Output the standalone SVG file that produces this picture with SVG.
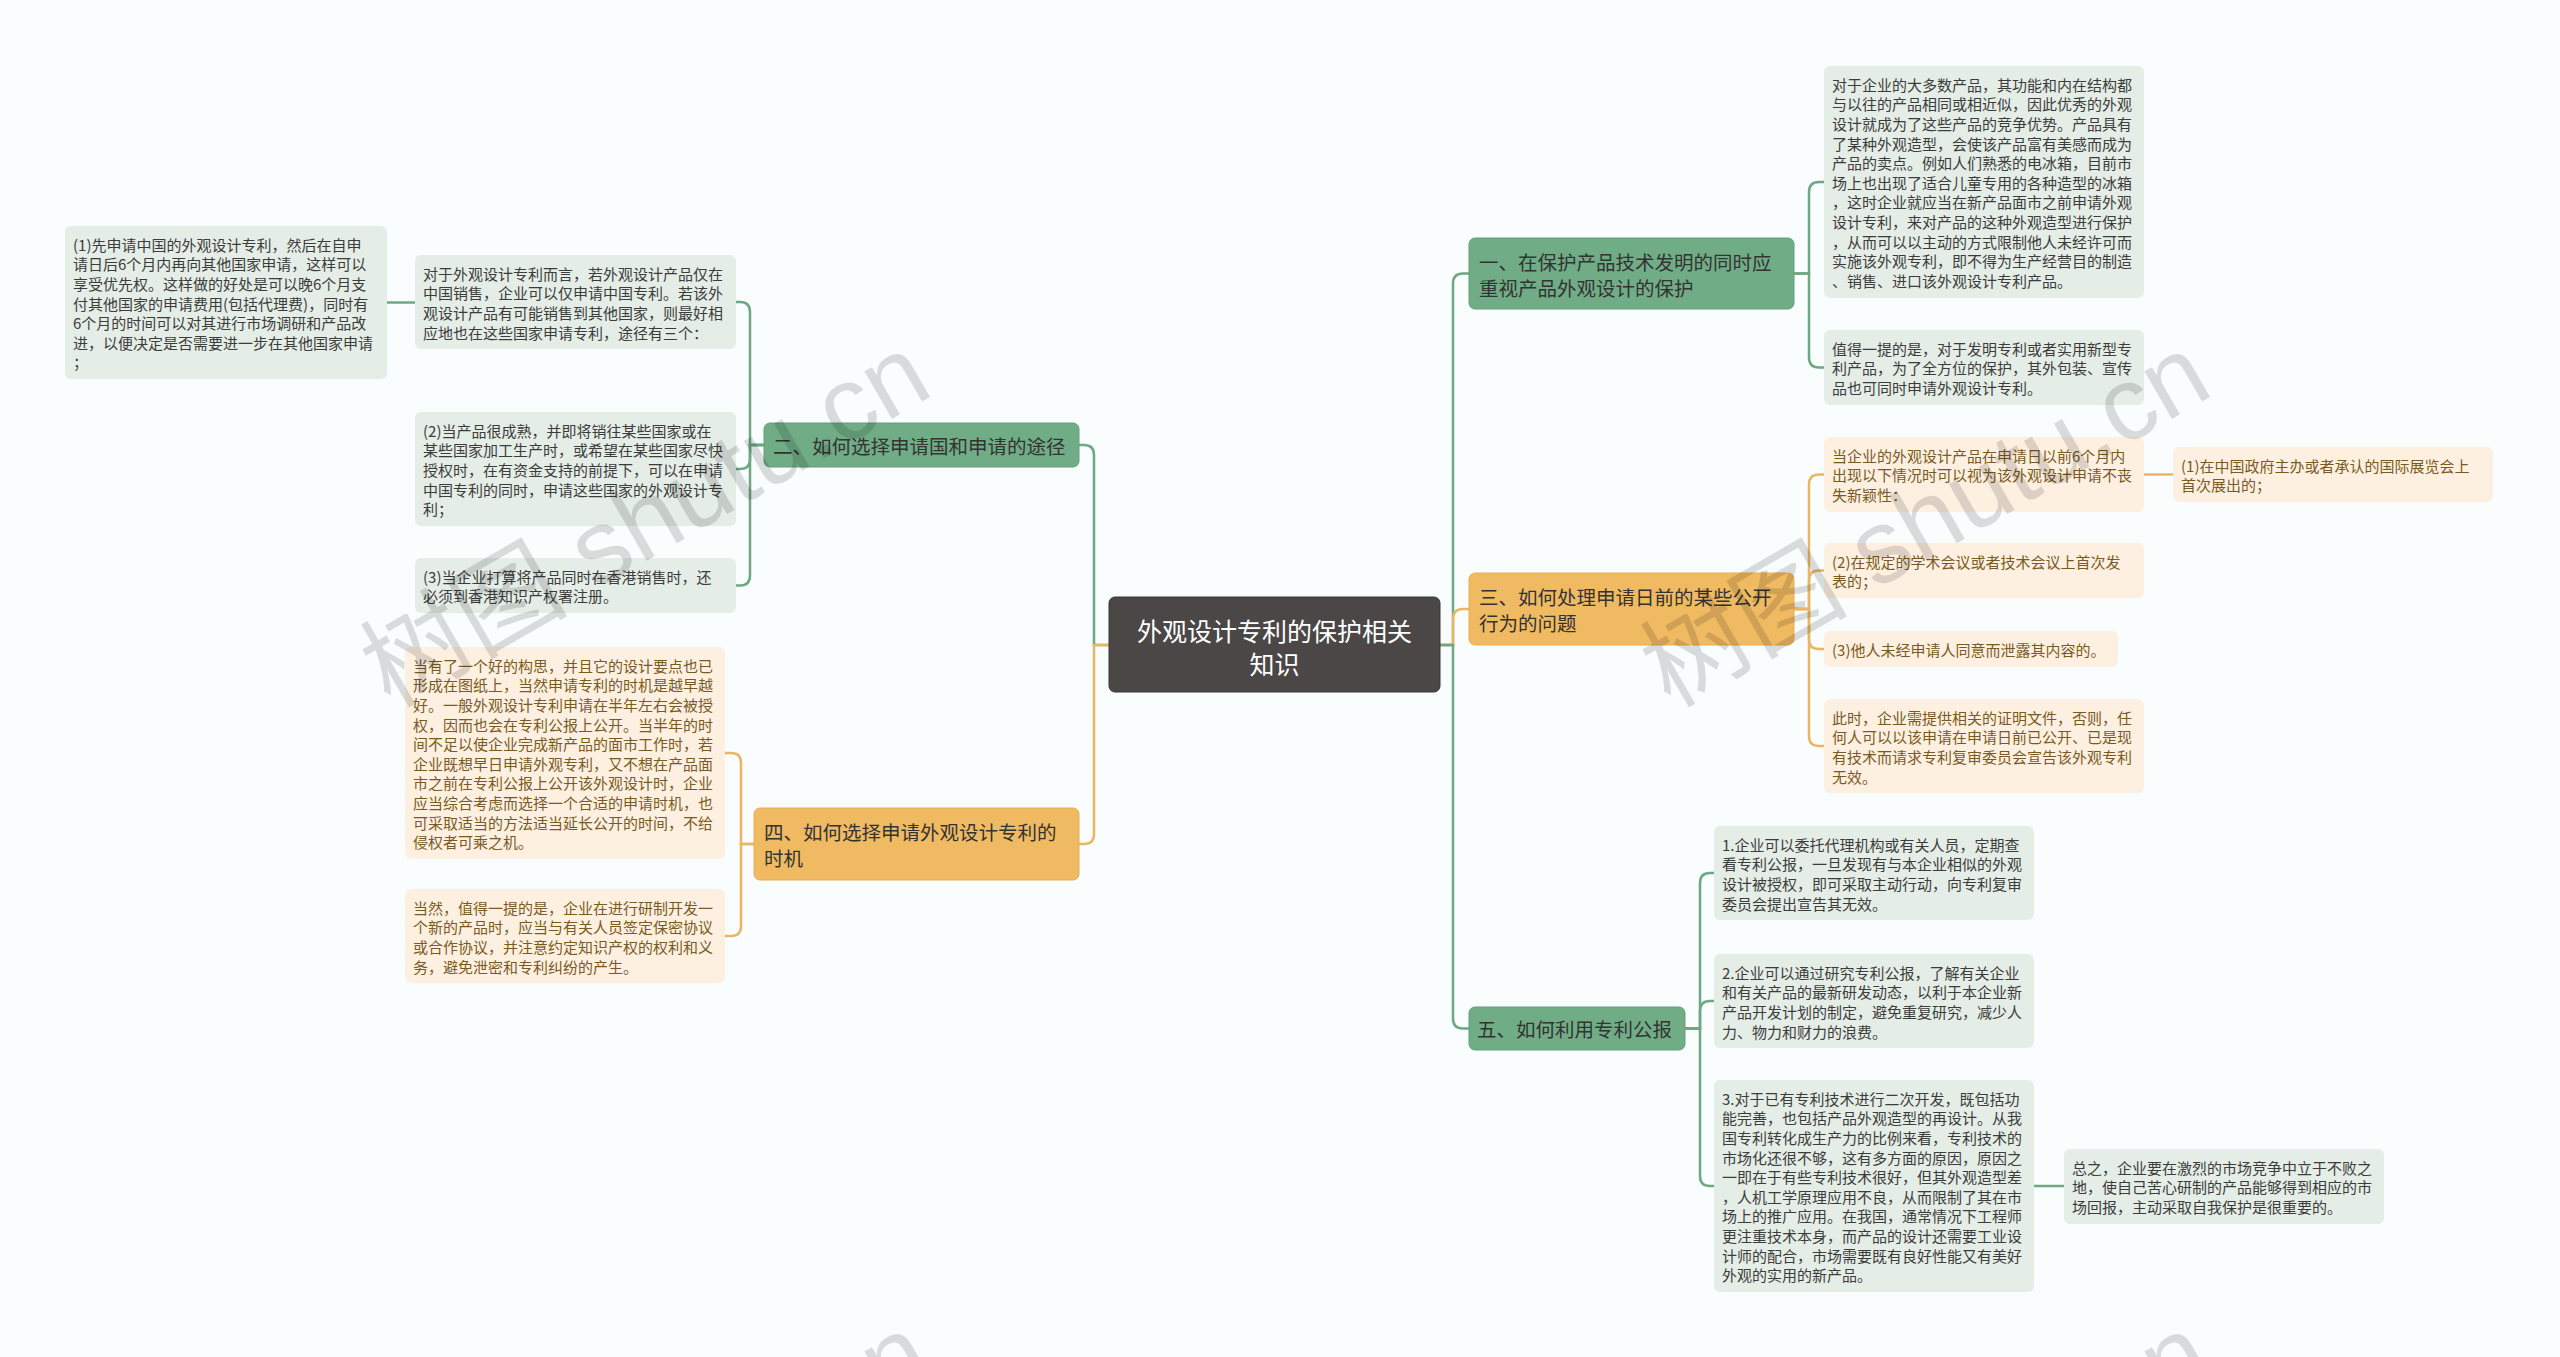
<svg xmlns="http://www.w3.org/2000/svg" width="2560" height="1357" viewBox="0 0 2560 1357">
<style>
text{font-family:"Noto Sans CJK SC","Noto Sans",sans-serif;dominant-baseline:central}
.lg rect{fill:#e5ede7}
.lo rect{fill:#fdf0e1}
.lg text{font-size:15px;fill:#3c3c3c}
.lo text{font-size:15px;fill:#7b5a22}
.bg rect{fill:#70ad86;stroke:#62a07a;stroke-width:1}
.bo rect{fill:#f0ba62;stroke:#e6ae55;stroke-width:1}
.bg text,.bo text{font-size:19.5px;fill:#333}
.root rect{fill:#4b4747;stroke:#3a3636;stroke-width:1}
.root text{font-size:25px;fill:#fff;text-anchor:middle}
.cg{fill:none;stroke:#6ea883;stroke-width:2.5}
.co{fill:none;stroke:#e9b763;stroke-width:2.5}
.wm{font-family:"Liberation Sans","Noto Sans CJK SC",sans-serif;font-size:104px;fill:#000;opacity:0.13;text-anchor:middle;dominant-baseline:central}
</style>
<rect x="0" y="0" width="2560" height="1357" fill="#f9fdfd"/>
<g id="connectors">
<path class="cg" d="M1109,645 H1094 V455 Q1094,445 1084,445 H1079"/>
<path class="co" d="M1109,645 H1094 V834 Q1094,844 1084,844 H1079"/>
<path class="cg" d="M1440,645 H1453 V283.5 Q1453,273.5 1463,273.5 H1469"/>
<path class="co" d="M1440,645 H1453 V619 Q1453,609 1463,609 H1469"/>
<path class="cg" d="M1440,645 H1453 V1018.5 Q1453,1028.5 1463,1028.5 H1469"/>
<path class="cg" d="M764,445 H750 V312 Q750,302 740,302 H736"/>
<path class="cg" d="M764,445 H750 V459 Q750,469 740,469 H736"/>
<path class="cg" d="M764,445 H750 V575.6 Q750,585.6 740,585.6 H736"/>
<path class="cg" d="M415,302.5 H387"/>
<path class="co" d="M754,844 H741 V763 Q741,753 731,753 H725"/>
<path class="co" d="M754,844 H741 V926 Q741,936 731,936 H725"/>
<path class="cg" d="M1794,273.5 H1809 V192 Q1809,182 1819,182 H1824"/>
<path class="cg" d="M1794,273.5 H1809 V357.5 Q1809,367.5 1819,367.5 H1824"/>
<path class="co" d="M1794,609 H1809 V484.5 Q1809,474.5 1819,474.5 H1824"/>
<path class="co" d="M1794,609 H1809 V580.5 Q1809,570.5 1819,570.5 H1824"/>
<path class="co" d="M1794,609 H1809 V639 Q1809,649 1819,649 H1824"/>
<path class="co" d="M1794,609 H1809 V736 Q1809,746 1819,746 H1824"/>
<path class="co" d="M2144,474.5 H2173"/>
<path class="cg" d="M1685,1028.5 H1700 V883 Q1700,873 1710,873 H1714"/>
<path class="cg" d="M1685,1028.5 H1700 V1011 Q1700,1001 1710,1001 H1714"/>
<path class="cg" d="M1685,1028.5 H1700 V1176 Q1700,1186 1710,1186 H1714"/>
<path class="cg" d="M2034,1186 H2064"/>
</g>
<g id="root" class="root">
<rect x="1109" y="597" width="331" height="95" rx="6"/>
<text x="1274.5"><tspan x="1274.5" y="629.5">外观设计专利的保护相关</tspan><tspan x="1274.5" y="662.5">知识</tspan></text>
</g>
<g id="b2" class="bg">
<rect x="764" y="423" width="315" height="44" rx="6"/>
<text x="773" y="445">二、如何选择申请国和申请的途径</text>
</g>
<g id="b4" class="bo">
<rect x="754" y="808" width="325" height="72" rx="6"/>
<text><tspan x="764" y="831">四、如何选择申请外观设计专利的</tspan><tspan x="764" y="857">时机</tspan></text>
</g>
<g id="b1" class="bg">
<rect x="1469" y="238" width="325" height="71" rx="6"/>
<text><tspan x="1479" y="261">一、在保护产品技术发明的同时应</tspan><tspan x="1479" y="287">重视产品外观设计的保护</tspan></text>
</g>
<g id="b3" class="bo">
<rect x="1469" y="573" width="325" height="72" rx="6"/>
<text><tspan x="1479" y="596">三、如何处理申请日前的某些公开</tspan><tspan x="1479" y="622">行为的问题</tspan></text>
</g>
<g id="b5" class="bg">
<rect x="1469" y="1007" width="216" height="43" rx="6"/>
<text x="1477" y="1028.5">五、如何利用专利公报</text>
</g>
<g id="l1" class="lg">
<rect x="65" y="226" width="322" height="153" rx="6"/>
<text><tspan x="73" y="243.8">(1)先申请中国的外观设计专利，然后在自申</tspan><tspan x="73" y="263.4">请日后6个月内再向其他国家申请，这样可以</tspan><tspan x="73" y="283">享受优先权。这样做的好处是可以晚6个月支</tspan><tspan x="73" y="302.6">付其他国家的申请费用(包括代理费)，同时有</tspan><tspan x="73" y="322.2">6个月的时间可以对其进行市场调研和产品改</tspan><tspan x="73" y="341.8">进，以便决定是否需要进一步在其他国家申请</tspan><tspan x="73" y="361.4">；</tspan></text>
</g>
<g id="l2a" class="lg">
<rect x="415" y="255" width="321" height="94" rx="6"/>
<text><tspan x="423" y="272.8">对于外观设计专利而言，若外观设计产品仅在</tspan><tspan x="423" y="292.4">中国销售，企业可以仅申请中国专利。若该外</tspan><tspan x="423" y="312">观设计产品有可能销售到其他国家，则最好相</tspan><tspan x="423" y="331.6">应地也在这些国家申请专利，途径有三个：</tspan></text>
</g>
<g id="l2b" class="lg">
<rect x="415" y="412" width="321" height="114" rx="6"/>
<text><tspan x="423" y="429.8">(2)当产品很成熟，并即将销往某些国家或在</tspan><tspan x="423" y="449.4">某些国家加工生产时，或希望在某些国家尽快</tspan><tspan x="423" y="469">授权时，在有资金支持的前提下，可以在申请</tspan><tspan x="423" y="488.6">中国专利的同时，申请这些国家的外观设计专</tspan><tspan x="423" y="508.2">利；</tspan></text>
</g>
<g id="l2c" class="lg">
<rect x="415" y="558" width="321" height="55" rx="6"/>
<text><tspan x="423" y="575.8">(3)当企业打算将产品同时在香港销售时，还</tspan><tspan x="423" y="595.4">必须到香港知识产权署注册。</tspan></text>
</g>
<g id="l4a" class="lo">
<rect x="405" y="647" width="320" height="212" rx="6"/>
<text><tspan x="413" y="664.8">当有了一个好的构思，并且它的设计要点也已</tspan><tspan x="413" y="684.4">形成在图纸上，当然申请专利的时机是越早越</tspan><tspan x="413" y="704">好。一般外观设计专利申请在半年左右会被授</tspan><tspan x="413" y="723.6">权，因而也会在专利公报上公开。当半年的时</tspan><tspan x="413" y="743.2">间不足以使企业完成新产品的面市工作时，若</tspan><tspan x="413" y="762.8">企业既想早日申请外观专利，又不想在产品面</tspan><tspan x="413" y="782.4">市之前在专利公报上公开该外观设计时，企业</tspan><tspan x="413" y="802">应当综合考虑而选择一个合适的申请时机，也</tspan><tspan x="413" y="821.6">可采取适当的方法适当延长公开的时间，不给</tspan><tspan x="413" y="841.2">侵权者可乘之机。</tspan></text>
</g>
<g id="l4b" class="lo">
<rect x="405" y="889" width="320" height="94" rx="6"/>
<text><tspan x="413" y="906.8">当然，值得一提的是，企业在进行研制开发一</tspan><tspan x="413" y="926.4">个新的产品时，应当与有关人员签定保密协议</tspan><tspan x="413" y="946">或合作协议，并注意约定知识产权的权利和义</tspan><tspan x="413" y="965.6">务，避免泄密和专利纠纷的产生。</tspan></text>
</g>
<g id="r1a" class="lg">
<rect x="1824" y="66" width="320" height="232" rx="6"/>
<text><tspan x="1832" y="83.8">对于企业的大多数产品，其功能和内在结构都</tspan><tspan x="1832" y="103.4">与以往的产品相同或相近似，因此优秀的外观</tspan><tspan x="1832" y="123">设计就成为了这些产品的竞争优势。产品具有</tspan><tspan x="1832" y="142.6">了某种外观造型，会使该产品富有美感而成为</tspan><tspan x="1832" y="162.2">产品的卖点。例如人们熟悉的电冰箱，目前市</tspan><tspan x="1832" y="181.8">场上也出现了适合儿童专用的各种造型的冰箱</tspan><tspan x="1832" y="201.4">，这时企业就应当在新产品面市之前申请外观</tspan><tspan x="1832" y="221">设计专利，来对产品的这种外观造型进行保护</tspan><tspan x="1832" y="240.6">，从而可以以主动的方式限制他人未经许可而</tspan><tspan x="1832" y="260.2">实施该外观专利，即不得为生产经营目的制造</tspan><tspan x="1832" y="279.8">、销售、进口该外观设计专利产品。</tspan></text>
</g>
<g id="r1b" class="lg">
<rect x="1824" y="330" width="320" height="75" rx="6"/>
<text><tspan x="1832" y="347.8">值得一提的是，对于发明专利或者实用新型专</tspan><tspan x="1832" y="367.4">利产品，为了全方位的保护，其外包装、宣传</tspan><tspan x="1832" y="387">品也可同时申请外观设计专利。</tspan></text>
</g>
<g id="r3a" class="lo">
<rect x="1824" y="437" width="320" height="75" rx="6"/>
<text><tspan x="1832" y="454.8">当企业的外观设计产品在申请日以前6个月内</tspan><tspan x="1832" y="474.4">出现以下情况时可以视为该外观设计申请不丧</tspan><tspan x="1832" y="494">失新颖性：</tspan></text>
</g>
<g id="r3a1" class="lo">
<rect x="2173" y="447" width="320" height="55" rx="6"/>
<text><tspan x="2181" y="464.8">(1)在中国政府主办或者承认的国际展览会上</tspan><tspan x="2181" y="484.4">首次展出的；</tspan></text>
</g>
<g id="r3b" class="lo">
<rect x="1824" y="543" width="320" height="55" rx="6"/>
<text><tspan x="1832" y="560.8">(2)在规定的学术会议或者技术会议上首次发</tspan><tspan x="1832" y="580.4">表的；</tspan></text>
</g>
<g id="r3c" class="lo">
<rect x="1824" y="631" width="294" height="36" rx="6"/>
<text x="1832" y="649">(3)他人未经申请人同意而泄露其内容的。</text>
</g>
<g id="r3d" class="lo">
<rect x="1824" y="699" width="320" height="94" rx="6"/>
<text><tspan x="1832" y="716.8">此时，企业需提供相关的证明文件，否则，任</tspan><tspan x="1832" y="736.4">何人可以以该申请在申请日前已公开、已是现</tspan><tspan x="1832" y="756">有技术而请求专利复审委员会宣告该外观专利</tspan><tspan x="1832" y="775.6">无效。</tspan></text>
</g>
<g id="r5a" class="lg">
<rect x="1714" y="826" width="320" height="94" rx="6"/>
<text><tspan x="1722" y="843.8">1.企业可以委托代理机构或有关人员，定期查</tspan><tspan x="1722" y="863.4">看专利公报，一旦发现有与本企业相似的外观</tspan><tspan x="1722" y="883">设计被授权，即可采取主动行动，向专利复审</tspan><tspan x="1722" y="902.6">委员会提出宣告其无效。</tspan></text>
</g>
<g id="r5b" class="lg">
<rect x="1714" y="954" width="320" height="94" rx="6"/>
<text><tspan x="1722" y="971.8">2.企业可以通过研究专利公报，了解有关企业</tspan><tspan x="1722" y="991.4">和有关产品的最新研发动态，以利于本企业新</tspan><tspan x="1722" y="1011">产品开发计划的制定，避免重复研究，减少人</tspan><tspan x="1722" y="1030.6">力、物力和财力的浪费。</tspan></text>
</g>
<g id="r5c" class="lg">
<rect x="1714" y="1080" width="320" height="212" rx="6"/>
<text><tspan x="1722" y="1097.8">3.对于已有专利技术进行二次开发，既包括功</tspan><tspan x="1722" y="1117.4">能完善，也包括产品外观造型的再设计。从我</tspan><tspan x="1722" y="1137">国专利转化成生产力的比例来看，专利技术的</tspan><tspan x="1722" y="1156.6">市场化还很不够，这有多方面的原因，原因之</tspan><tspan x="1722" y="1176.2">一即在于有些专利技术很好，但其外观造型差</tspan><tspan x="1722" y="1195.8">，人机工学原理应用不良，从而限制了其在市</tspan><tspan x="1722" y="1215.4">场上的推广应用。在我国，通常情况下工程师</tspan><tspan x="1722" y="1235">更注重技术本身，而产品的设计还需要工业设</tspan><tspan x="1722" y="1254.6">计师的配合，市场需要既有良好性能又有美好</tspan><tspan x="1722" y="1274.2">外观的实用的新产品。</tspan></text>
</g>
<g id="r5c1" class="lg">
<rect x="2064" y="1149" width="320" height="75" rx="6"/>
<text><tspan x="2072" y="1166.8">总之，企业要在激烈的市场竞争中立于不败之</tspan><tspan x="2072" y="1186.4">地，使自己苦心研制的产品能够得到相应的市</tspan><tspan x="2072" y="1206">场回报，主动采取自我保护是很重要的。</tspan></text>
</g>
<g id="watermarks">
<text class="wm" transform="translate(645,520) rotate(-30)">树图 shutu.cn</text>
<text class="wm" transform="translate(1925,520) rotate(-30)">树图 shutu.cn</text>
<text class="wm" transform="translate(645,1500) rotate(-30)">树图 shutu.cn</text>
<text class="wm" transform="translate(1925,1500) rotate(-30)">树图 shutu.cn</text>
</g>
</svg>
